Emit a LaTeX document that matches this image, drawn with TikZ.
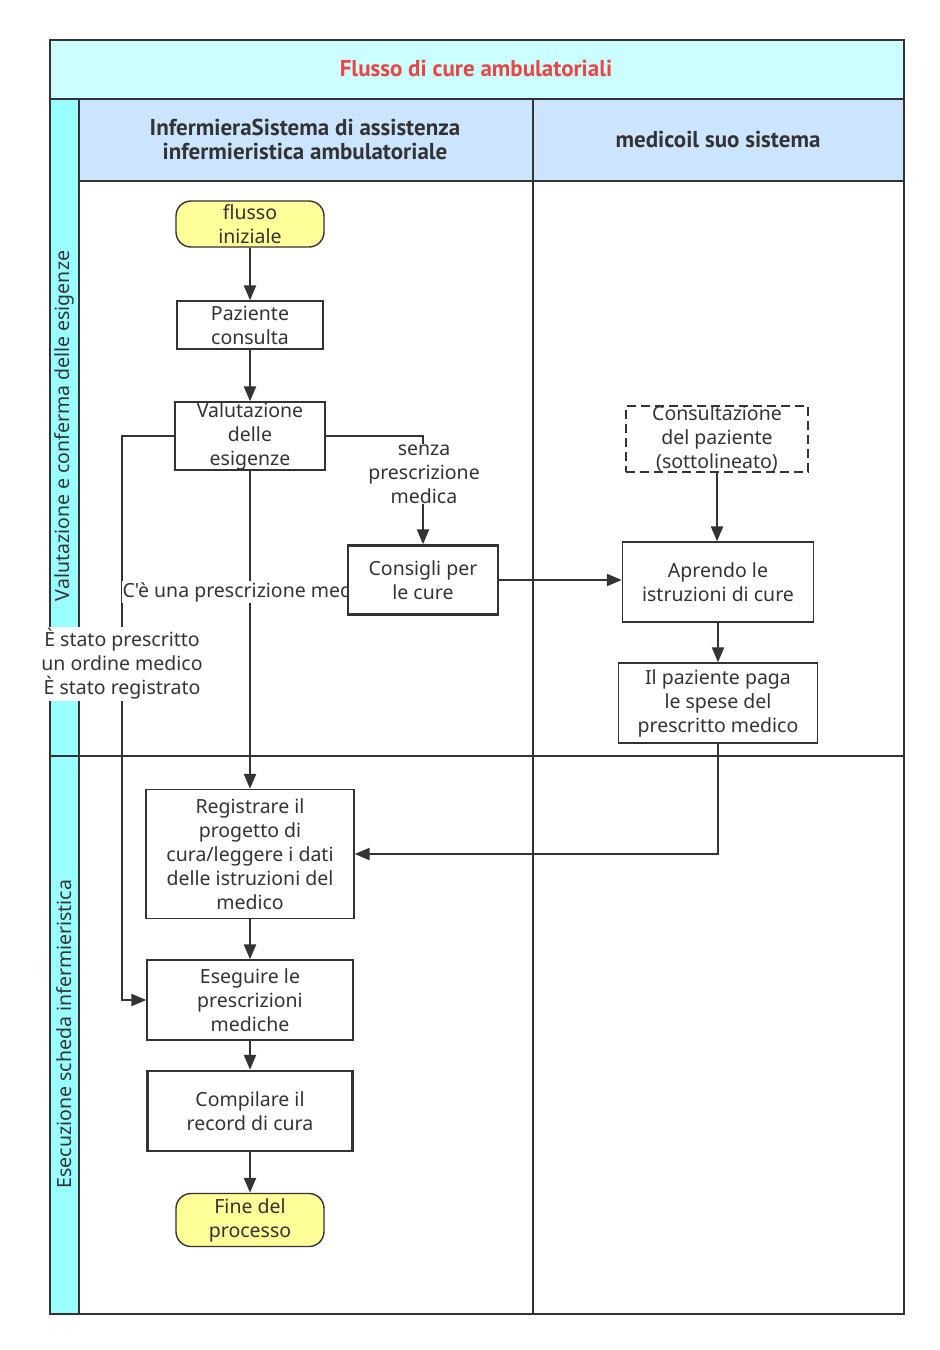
\documentclass[tikz,border=0pt]{standalone}
\usepackage{fontspec}
\setmainfont{Noto Sans}[Ligatures=TeXOff]
\newfontfamily\headfont{PT Sans}
\usetikzlibrary{arrows.meta}
\definecolor{lc}{HTML}{333333}
\definecolor{titlefill}{HTML}{CCFFFF}
\definecolor{stripfill}{HTML}{99FFFF}
\definecolor{headfill}{HTML}{CCE5FF}
\definecolor{termfill}{HTML}{FFFF99}
\definecolor{titlered}{HTML}{E84545}
\pgfdeclarelayer{bg}
\pgfdeclarelayer{edges}
\pgfsetlayers{bg,edges,main}
\newcommand\bodyfont{\fontsize{19.5}{24}\selectfont}
\newcommand\hfont{\headfont\bfseries\fontsize{23}{24}\selectfont}
\newcommand\mybox[6]{%
  \node[#1, minimum width=#4, minimum height=#5] (#2) at (#3) {};
  \node[txt] (#2-t) at (#2.center) {#6};}
\begin{document}
\begin{tikzpicture}[x=1pt,y=-1pt,
  box/.style={draw=lc, line width=1.4pt, fill=white, inner sep=0pt},
  thickbox/.style={box, line width=2.5pt},
  dashbox/.style={box, line width=2.3pt, dashed, dash pattern=on 9pt off 5pt},
  term/.style={box, fill=termfill, rounded corners=15pt},
  txt/.style={font=\bodyfont, align=center, inner sep=0pt, text=lc},
  lbl/.style={font=\bodyfont, align=center, inner sep=1pt, fill=white, text=lc},
  edge/.style={draw=lc, line width=2.3pt, -{Triangle[length=15pt,width=12pt]}},
  frame/.style={draw=lc, line width=1.3pt},
  lanetxt/.style={font=\bodyfont, text=lc, rotate=90},
  headtxt/.style={font=\hfont, text=lc, align=center}
]
\useasboundingbox (0,0) rectangle (940,1350);

\begin{pgfonlayer}{bg}
  \fill[white] (0,0) rectangle (940,1350);
  \fill[titlefill] (50,40) rectangle (904,99);
  \fill[stripfill] (50,99) rectangle (79,1314);
  \fill[headfill] (79,99) rectangle (904,181);
  \draw[frame] (50,99) -- (904,99);
  \draw[frame] (79,181) -- (904,181);
  \draw[frame] (79,99) -- (79,1314);
  \draw[frame] (533,99) -- (533,1314);
  \draw[frame] (50,756) -- (904,756);
  \draw[frame, line width=1.6pt] (50,40) rectangle (904,1314);
  \node[font=\hfont, text=titlered] (title) at (476,68) {Flusso di cure ambulatoriali};
  \node[headtxt] (h1) at (305,139) {InfermieraSistema di assistenza\\infermieristica ambulatoriale};
  \node[headtxt] (h2) at (718,139) {medicoil suo sistema};
  \node[lanetxt] (lane1) at (64,426) {Valutazione e conferma delle esigenze};
  \node[lanetxt] (lane2) at (64,1034) {Esecuzione scheda infermieristica};
\end{pgfonlayer}

% nodes
\mybox{term}{start}{250,224}{148pt}{46pt}{flusso\\iniziale}
\mybox{box}{paz}{250,325}{146pt}{48pt}{Paziente\\consulta}
\mybox{box}{val}{250,436}{150pt}{68pt}{Valutazione\\delle\\esigenze}
\mybox{thickbox}{cons}{423,580}{150pt}{69pt}{Consigli per\\le cure}
\mybox{dashbox}{consul}{717,439}{182pt}{66pt}{Consultazione\\del paziente\\(sottolineato)}
\mybox{box}{apr}{718,582}{191pt}{80pt}{Aprendo le\\istruzioni di cure}
\mybox{box}{pay}{718,703}{199pt}{80pt}{Il paziente paga\\le spese del\\prescritto medico}
\mybox{box}{reg}{250,854}{208pt}{129pt}{Registrare il\\progetto di\\cura/leggere i dati\\delle istruzioni del\\medico}
\mybox{box}{ese}{250,1000}{206pt}{80pt}{Eseguire le\\prescrizioni\\mediche}
\mybox{thickbox}{comp}{250,1111}{205pt}{80pt}{Compilare il\\record di cura}
\mybox{term}{fine}{250,1220}{148pt}{53pt}{Fine del\\processo}

\coordinate (lx) at (122,0);

\begin{pgfonlayer}{edges}
  \draw[edge] (start.south) -- (paz.north);
  \draw[edge] (paz.south) -- (val.north);
  \draw[edge] (val.east) -| (cons.north);
  \node[lbl] (l1) at (424,474) {senza\\prescrizione\\medica};
  \draw[edge] (val.west) -- (val.west -| lx) |- (ese.west);
  \node[lbl] (l2) at (122,664) {È stato prescritto\\un ordine medico\\È stato registrato};
  \draw[edge] (val.south) -- (reg.north);
  \node[lbl] (l3) at (250,592) {C'è una prescrizione medica};
  \draw[edge] (cons.east) -- (cons.east -| apr.west);
  \draw[edge] (consul.south) -- (consul.south |- apr.north);
  \draw[edge] (apr.south) -- (pay.north);
  \draw[edge] (pay.south) |- (reg.east);
  \draw[edge] (reg.south) -- (ese.north);
  \draw[edge] (ese.south) -- (comp.north);
  \draw[edge] (comp.south) -- (fine.north);
\end{pgfonlayer}
\end{tikzpicture}
\end{document}
